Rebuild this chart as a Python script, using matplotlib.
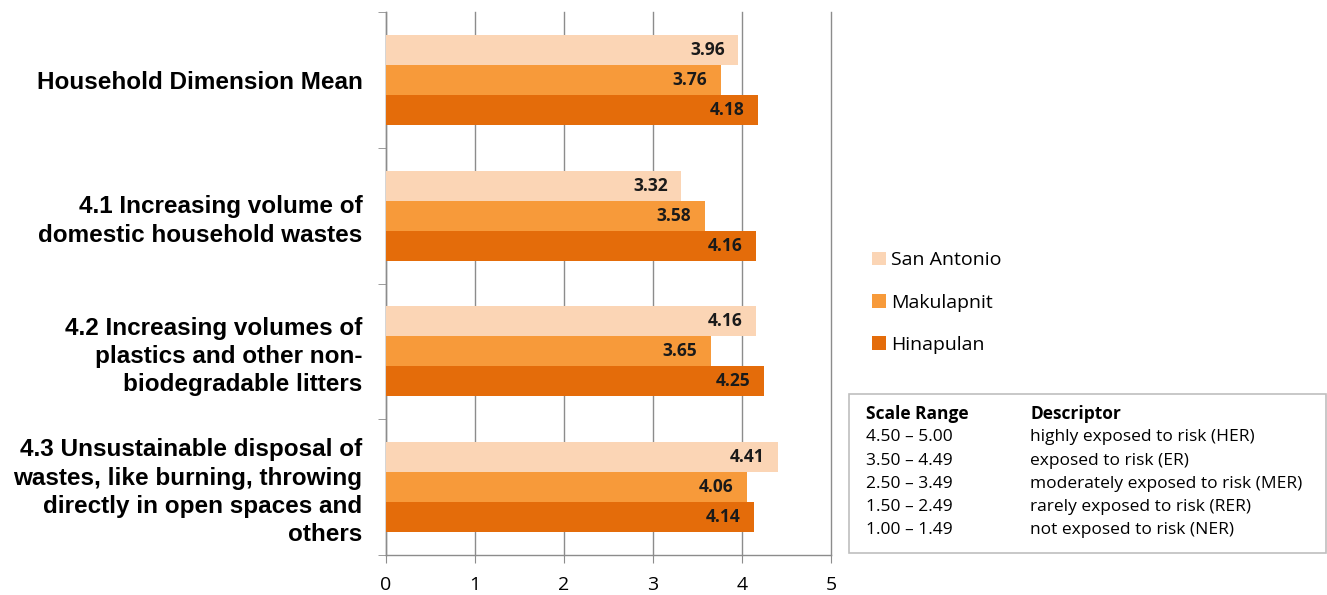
import matplotlib
matplotlib.use("Agg")
import matplotlib.pyplot as plt
from matplotlib.patches import Rectangle
import numpy as np

categories = [
    "Household Dimension Mean",
    "4.1 Increasing volume of\ndomestic household wastes",
    "4.2 Increasing volumes of\nplastics and other non-\nbiodegradable litters",
    "4.3 Unsustainable disposal of\nwastes, like burning, throwing\ndirectly in open spaces and\nothers",
]
series_names = ["San Antonio", "Makulapnit", "Hinapulan"]
san_antonio = [3.96, 3.32, 4.16, 4.41]
makulapnit = [3.76, 3.58, 3.65, 4.06]
hinapulan = [4.18, 4.16, 4.25, 4.14]
x_ticks = [0, 1, 2, 3, 4, 5]

scale_ranges = ["4.50 \u2013 5.00", "3.50 \u2013 4.49", "2.50 \u2013 3.49",
                "1.50 \u2013 2.49", "1.00 \u2013 1.49"]
descriptors = ["highly exposed to risk (HER)", "exposed to risk (ER)",
               "moderately exposed to risk (MER)", "rarely exposed to risk (RER)",
               "not exposed to risk (NER)"]

colors = ["#FBD5B5", "#F79A3A", "#E46C0A"]
series = [san_antonio, makulapnit, hinapulan]

fig = plt.figure(figsize=(13.27, 5.95), dpi=100)
ax = fig.add_axes([0.2909, 0.0672, 0.3353, 0.9126])

n = len(categories)
bar_h = 0.221
centers = np.arange(n)
handles = []
for i, (vals, col, name) in enumerate(zip(series, colors, series_names)):
    ypos = centers + (i - 1) * bar_h
    b = ax.barh(ypos, vals, height=bar_h, color=col, label=name, zorder=3)
    handles.append(b)
    for y, v in zip(ypos, vals):
        ax.annotate(f"{v:.2f}", xy=(v, y), xytext=(-10, 0), textcoords="offset points",
                    ha="right", va="center", fontsize=12.5, fontweight="bold",
                    family="Open Sans", color="#1a1a1a", zorder=4)

ax.set_xlim(0, 5)
ax.set_ylim(n - 0.5, -0.5)
ax.set_xticks(x_ticks)
ax.set_xticklabels([str(t) for t in x_ticks], family="Open Sans", fontsize=14)
ax.xaxis.grid(True, color="#8c8c8c", linewidth=1.0, zorder=0)
for gl in ax.get_xgridlines():
    gl.set_clip_on(False)
ax.tick_params(axis="x", length=6, color="#8c8c8c", direction="out", pad=9)

ax.set_yticks(centers)
ax.set_yticklabels(categories, family="Liberation Sans", fontweight="bold",
                   fontsize=17.5, linespacing=1.3)
ax.set_yticks(np.arange(n + 1) - 0.5, minor=True)
ax.tick_params(axis="y", which="major", length=0, pad=17)
ax.tick_params(axis="y", which="minor", length=6, color="#8c8c8c")

for s in ["top", "right"]:
    ax.spines[s].set_visible(False)
for s in ["left", "bottom"]:
    ax.spines[s].set_color("#8c8c8c")
    ax.spines[s].set_linewidth(1.0)

# Legend
leg = fig.legend(handles=handles, labels=series_names, loc="upper left",
                 bbox_to_anchor=(0.644, 0.607), frameon=False,
                 prop={"family": "Open Sans", "size": 14},
                 handlelength=0.72, handleheight=0.72, labelspacing=1.25,
                 handletextpad=0.25)

# Scale table
box = Rectangle((849 / 1327, 1 - 553 / 595), (1327 - 850) / 1327, (553 - 394) / 595,
                transform=fig.transFigure, fill=False, edgecolor="#bfbfbf",
                linewidth=1.2)
fig.add_artist(box)
row_y = [414 + 23.3 * k for k in range(6)]
fig.text(866 / 1327, 1 - row_y[0] / 595, "Scale Range", family="Open Sans",
         fontweight="bold", fontsize=12.5, va="center", ha="left")
fig.text(1030 / 1327, 1 - row_y[0] / 595, "Descriptor", family="Open Sans",
         fontweight="bold", fontsize=12.5, va="center", ha="left")
for k, (r, d) in enumerate(zip(scale_ranges, descriptors)):
    fig.text(866 / 1327, 1 - row_y[k + 1] / 595, r, family="Open Sans",
             fontsize=12.5, va="center", ha="left")
    fig.text(1030 / 1327, 1 - row_y[k + 1] / 595, d, family="Open Sans",
             fontsize=12.5, va="center", ha="left")

fig.savefig("out.png", dpi=100)
